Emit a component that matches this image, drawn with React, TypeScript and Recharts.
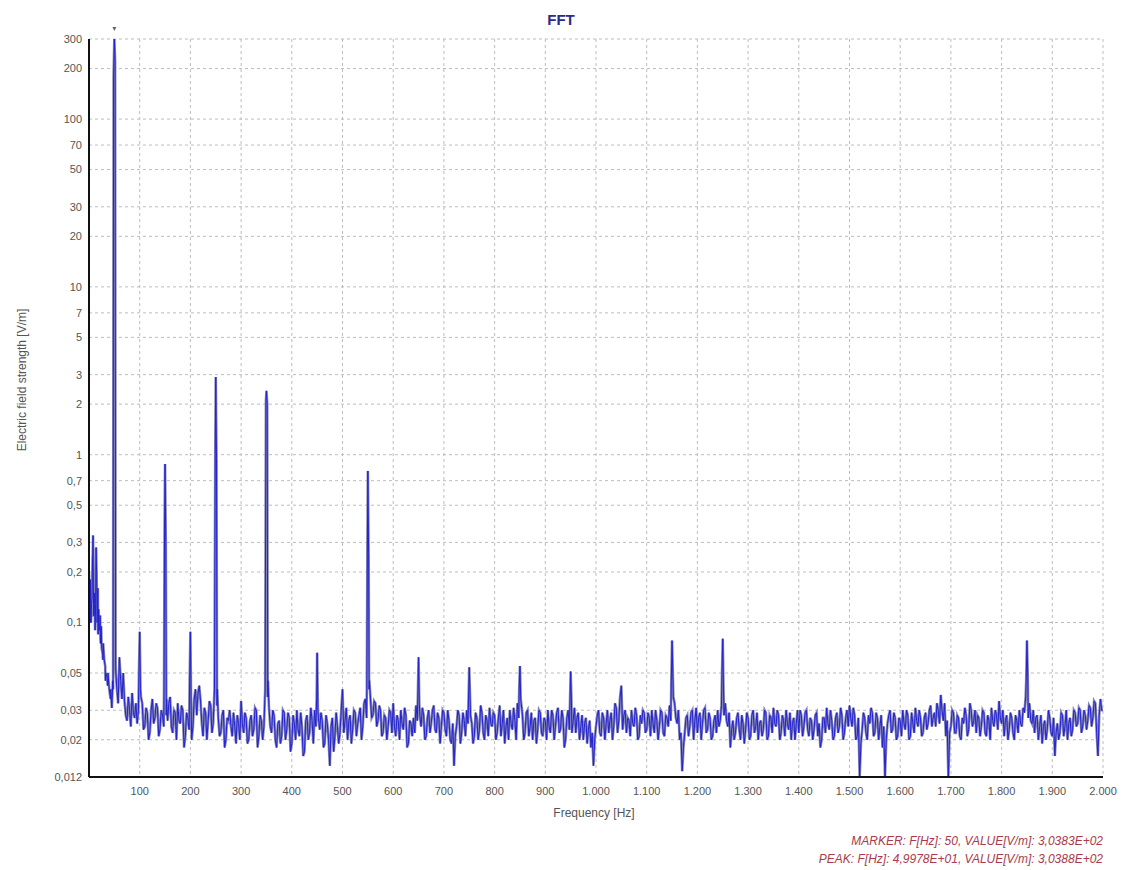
import { LineChart, Line, XAxis, YAxis, CartesianGrid, ReferenceDot } from "recharts";

// FFT noise floor, 5 Hz bins, one block per 500 Hz (10 values = 50 Hz per row)
const floor0 = [
  0.2, 0.13, 0.11, 0.2, 0.09, 0.07, 0.06, 0.048, 0.04, 0.031,
  0.03, 0.04, 0.062, 0.035, 0.034, 0.026, 0.03, 0.038, 0.027, 0.025,
  0.03, 0.033, 0.024, 0.029, 0.022, 0.035, 0.027, 0.031, 0.023, 0.028,
  0.03, 0.026, 0.036, 0.022, 0.029, 0.033, 0.025, 0.03, 0.021, 0.027,
  0.03, 0.024, 0.04, 0.038, 0.034, 0.021, 0.029, 0.026, 0.032, 0.025,
  0.03, 0.027, 0.022, 0.03, 0.02, 0.026, 0.024, 0.029, 0.019, 0.025,
  0.034, 0.022, 0.027, 0.02, 0.028, 0.023, 0.03, 0.021, 0.026, 0.024,
  0.03, 0.031, 0.022, 0.028, 0.018, 0.026, 0.021, 0.029, 0.023, 0.027,
  0.019, 0.025, 0.03, 0.021, 0.024, 0.017, 0.028, 0.022, 0.026, 0.03,
  0.03, 0.023, 0.026, 0.019, 0.025, 0.014, 0.027, 0.021, 0.024, 0.022,
];
const floor500 = [
  0.04, 0.026, 0.02, 0.028, 0.023, 0.029, 0.025, 0.031, 0.024, 0.035,
  0.03, 0.036, 0.028, 0.033, 0.026, 0.03, 0.022, 0.027, 0.024, 0.029,
  0.033, 0.021, 0.026, 0.03, 0.023, 0.028, 0.019, 0.025, 0.027, 0.032,
  0.03, 0.024, 0.028, 0.021, 0.03, 0.025, 0.032, 0.022, 0.027, 0.024,
  0.029, 0.021, 0.026, 0.019, 0.014, 0.024, 0.028, 0.022, 0.026, 0.03,
  0.03, 0.025, 0.021, 0.027, 0.023, 0.029, 0.02, 0.026, 0.031, 0.024,
  0.028, 0.022, 0.032, 0.025, 0.019, 0.027, 0.03, 0.023, 0.026, 0.033,
  0.03, 0.028, 0.022, 0.03, 0.024, 0.02, 0.027, 0.023, 0.029, 0.021,
  0.026, 0.03, 0.022, 0.028, 0.024, 0.031, 0.023, 0.027, 0.02, 0.03,
  0.03, 0.026, 0.022, 0.029, 0.024, 0.02, 0.027, 0.023, 0.018, 0.014,
];
const floor1000 = [
  0.024, 0.03, 0.021, 0.027, 0.025, 0.022, 0.029, 0.024, 0.031, 0.026,
  0.03, 0.028, 0.022, 0.026, 0.03, 0.024, 0.028, 0.021, 0.025, 0.029,
  0.023, 0.027, 0.03, 0.022, 0.026, 0.024, 0.029, 0.021, 0.027, 0.032,
  0.03, 0.033, 0.025, 0.02, 0.013, 0.022, 0.028, 0.024, 0.03, 0.026,
  0.022, 0.029, 0.025, 0.031, 0.023, 0.027, 0.021, 0.028, 0.03, 0.026,
  0.03, 0.033, 0.024, 0.018, 0.026, 0.022, 0.029, 0.02, 0.025, 0.023,
  0.027, 0.021, 0.03, 0.024, 0.02, 0.026, 0.023, 0.029, 0.021, 0.027,
  0.031, 0.024, 0.028, 0.022, 0.026, 0.03, 0.023, 0.02, 0.027, 0.025,
  0.022, 0.028, 0.024, 0.03, 0.021, 0.026, 0.023, 0.029, 0.025, 0.02,
  0.027, 0.031, 0.023, 0.026, 0.021, 0.029, 0.024, 0.028, 0.022, 0.03,
];
const floor1500 = [
  0.032, 0.024, 0.028, 0.021, 0.012, 0.023, 0.027, 0.02, 0.025, 0.029,
  0.022, 0.027, 0.024, 0.018, 0.012, 0.025, 0.03, 0.023, 0.027, 0.021,
  0.026, 0.03, 0.023, 0.028, 0.021, 0.025, 0.031, 0.024, 0.027, 0.022,
  0.029, 0.025, 0.032, 0.027, 0.024, 0.03, 0.037, 0.026, 0.021, 0.012,
  0.024, 0.029, 0.022, 0.027, 0.02, 0.025, 0.028, 0.023, 0.03, 0.026,
  0.022, 0.027, 0.024, 0.029, 0.021, 0.026, 0.031, 0.024, 0.028, 0.034,
  0.025, 0.021, 0.028, 0.023, 0.027, 0.02, 0.026, 0.03, 0.024, 0.029,
  0.03, 0.033, 0.025, 0.022, 0.028, 0.024, 0.019, 0.026, 0.023, 0.027,
  0.021, 0.016, 0.025, 0.022, 0.028, 0.024, 0.02, 0.027, 0.023, 0.029,
  0.025, 0.03, 0.024, 0.028, 0.026, 0.031, 0.027, 0.033, 0.016, 0.035,
  0.03,
];

// in-between bins (offset 2.5 Hz), same block layout
const mid0 = [
  0.1, 0.26, 0.1, 0.16, 0.08, 0.06, 0.045, 0.05, 0.035, 0.04,
  0.055, 0.033, 0.045, 0.05, 0.028, 0.036, 0.024, 0.029, 0.033, 0.03,
  0.036, 0.023, 0.031, 0.02, 0.03, 0.025, 0.033, 0.021, 0.03, 0.024,
  0.028, 0.033, 0.024, 0.03, 0.02, 0.026, 0.032, 0.018, 0.029, 0.023,
  0.02, 0.035, 0.028, 0.042, 0.025, 0.031, 0.02, 0.034, 0.022, 0.03,
  0.032, 0.021, 0.028, 0.018, 0.027, 0.03, 0.021, 0.024, 0.028, 0.02,
  0.025, 0.029, 0.019, 0.026, 0.021, 0.031, 0.018, 0.028, 0.02, 0.03,
  0.036, 0.024, 0.03, 0.02, 0.025, 0.019, 0.03, 0.02, 0.029, 0.017,
  0.028, 0.02, 0.023, 0.029, 0.016, 0.026, 0.02, 0.031, 0.019, 0.024,
  0.027, 0.029, 0.018, 0.028, 0.02, 0.024, 0.017, 0.029, 0.019, 0.03,
];
const mid500 = [
  0.022, 0.031, 0.026, 0.019, 0.03, 0.021, 0.028, 0.02, 0.033, 0.027,
  0.04, 0.027, 0.034, 0.024, 0.032, 0.021, 0.028, 0.02, 0.03, 0.022,
  0.024, 0.028, 0.02, 0.025, 0.031, 0.018, 0.026, 0.021, 0.022, 0.026,
  0.028, 0.031, 0.02, 0.027, 0.022, 0.03, 0.023, 0.029, 0.019, 0.03,
  0.023, 0.03, 0.02, 0.025, 0.021, 0.03, 0.019, 0.029, 0.021, 0.025,
  0.028, 0.019, 0.029, 0.02, 0.032, 0.022, 0.028, 0.021, 0.025, 0.029,
  0.02, 0.027, 0.021, 0.03, 0.024, 0.02, 0.025, 0.031, 0.02, 0.027,
  0.033, 0.02, 0.029, 0.021, 0.029, 0.026, 0.019, 0.03, 0.022, 0.027,
  0.02, 0.024, 0.03, 0.02, 0.029, 0.022, 0.03, 0.018, 0.027, 0.023,
  0.022, 0.031, 0.027, 0.02, 0.028, 0.025, 0.019, 0.026, 0.022, 0.02,
];
const mid1000 = [
  0.028, 0.022, 0.029, 0.02, 0.03, 0.026, 0.02, 0.033, 0.022, 0.036,
  0.023, 0.03, 0.027, 0.021, 0.025, 0.031, 0.02, 0.028, 0.03, 0.022,
  0.029, 0.021, 0.025, 0.03, 0.02, 0.03, 0.022, 0.028, 0.024, 0.026,
  0.036, 0.027, 0.03, 0.022, 0.018, 0.027, 0.021, 0.029, 0.02, 0.031,
  0.027, 0.02, 0.03, 0.022, 0.029, 0.02, 0.026, 0.022, 0.024, 0.032,
  0.028, 0.026, 0.029, 0.023, 0.02, 0.027, 0.023, 0.028, 0.019, 0.029,
  0.02, 0.028, 0.022, 0.029, 0.025, 0.021, 0.03, 0.02, 0.028, 0.022,
  0.025, 0.03, 0.02, 0.028, 0.021, 0.025, 0.029, 0.025, 0.02, 0.03,
  0.03, 0.021, 0.029, 0.023, 0.027, 0.02, 0.028, 0.021, 0.018, 0.027,
  0.022, 0.025, 0.03, 0.02, 0.027, 0.022, 0.031, 0.02, 0.027, 0.024,
];
const mid1500 = [
  0.027, 0.031, 0.02, 0.027, 0.019, 0.029, 0.022, 0.028, 0.031, 0.021,
  0.029, 0.02, 0.028, 0.024, 0.02, 0.028, 0.022, 0.029, 0.02, 0.027,
  0.021, 0.025, 0.03, 0.02, 0.029, 0.022, 0.026, 0.03, 0.021, 0.027,
  0.023, 0.03, 0.024, 0.029, 0.033, 0.025, 0.03, 0.033, 0.026, 0.022,
  0.03, 0.022, 0.028, 0.021, 0.027, 0.031, 0.021, 0.033, 0.024, 0.03,
  0.028, 0.021, 0.03, 0.022, 0.028, 0.02, 0.026, 0.03, 0.023, 0.027,
  0.03, 0.026, 0.02, 0.029, 0.022, 0.028, 0.022, 0.025, 0.031, 0.036,
  0.027, 0.026, 0.03, 0.027, 0.02, 0.028, 0.024, 0.02, 0.03, 0.022,
  0.027, 0.022, 0.02, 0.029, 0.021, 0.03, 0.025, 0.021, 0.03, 0.024,
  0.031, 0.022, 0.03, 0.023, 0.032, 0.024, 0.034, 0.022, 0.028, 0.03,
];

const BIN_HZ = 5;
const MID_OFFSET_HZ = 2.5;
const floorBlocks: [number, number[]][] = [
  [0, floor0],
  [500, floor500],
  [1000, floor1000],
  [1500, floor1500],
];
const midBlocks: [number, number[]][] = [
  [0, mid0],
  [500, mid500],
  [1000, mid1000],
  [1500, mid1500],
];

// extra detail below 45 Hz
const lowHz = [1, 2, 3, 4, 6, 7, 8, 9, 11, 12, 13, 14, 16, 17, 18, 19, 21, 22, 23, 24, 27, 28, 32, 33, 37, 38, 42, 43];
const lowVals = [0.16, 0.12, 0.18, 0.1, 0.14, 0.24, 0.33, 0.11, 0.15, 0.09, 0.13, 0.28, 0.1, 0.14, 0.085, 0.12, 0.09, 0.11, 0.075, 0.095, 0.065, 0.075, 0.055, 0.05, 0.042, 0.047, 0.036, 0.04];

// harmonic peaks (with their neighbouring bins)
const peakHz = [
  47, 48.5, 50, 51.5, 53,
  98.5, 100, 101.5,
  148, 149, 150, 151.5, 153,
  198.5, 200, 201.5,
  247.5, 249, 250, 251.5, 253,
  347.5, 349, 350, 351.5, 353,
  449, 450, 451.5,
  548, 549, 550, 551.5, 553,
  648.5, 650, 651.5,
  750, 848.5, 850, 851.5, 950, 951.5, 1050,
  1148.5, 1150, 1151.5,
  1248.5, 1250, 1251.5,
  1848.5, 1850, 1851.5,
];
const peakVals = [
  0.045, 180, 303.88, 220, 0.05,
  0.05, 0.088, 0.04,
  0.04, 0.35, 0.88, 0.3, 0.035,
  0.045, 0.088, 0.03,
  0.04, 1.0, 2.9, 0.95, 0.04,
  0.04, 2.1, 2.4, 2.0, 0.045,
  0.035, 0.066, 0.03,
  0.04, 0.25, 0.8, 0.26, 0.045,
  0.035, 0.062, 0.033,
  0.054, 0.04, 0.055, 0.035, 0.051, 0.035, 0.042,
  0.045, 0.078, 0.05,
  0.05, 0.08, 0.04,
  0.045, 0.078, 0.05,
];

const xTicks = [100, 200, 300, 400, 500, 600, 700, 800, 900, 1000, 1100, 1200, 1300, 1400, 1500, 1600, 1700, 1800, 1900, 2000];
const yTicks = [0.012, 0.02, 0.03, 0.05, 0.1, 0.2, 0.3, 0.5, 0.7, 1, 2, 3, 5, 7, 10, 20, 30, 50, 70, 100, 200, 300];

const spectrum = (() => {
  const m = new Map<number, number>();
  floorBlocks.forEach(([start, vals]) => vals.forEach((v, i) => m.set(start + i * BIN_HZ, v)));
  midBlocks.forEach(([start, vals]) => vals.forEach((v, i) => m.set(start + i * BIN_HZ + MID_OFFSET_HZ, v)));
  lowHz.forEach((f, i) => m.set(f, lowVals[i]));
  peakHz.forEach((f, i) => m.set(f, peakVals[i]));
  return [...m.entries()].sort((a, b) => a[0] - b[0]).map(([f, v]) => ({ f, v }));
})();

const FONT = "'Liberation Sans', Arial, sans-serif";
const fmtX = (v: number) => (v >= 1000 ? `${Math.floor(v / 1000)}.${String(v % 1000).padStart(3, "0")}` : String(v));
const fmtY = (v: number) => String(v).replace(".", ",");

const Marker = (p: any) => (
  <path d={`M${p.cx - 2},${p.cy - 12} L${p.cx + 2},${p.cy - 12} L${p.cx},${p.cy - 8} Z`} fill="#666" />
);

export default function App() {
  return (
    <div style={{ position: "absolute", left: 0, top: 0, width: 1122, height: 870, background: "#fff", fontFamily: FONT }}>
      <div style={{ position: "absolute", top: 11, width: 1122, textAlign: "center", fontWeight: "bold", fontSize: 15, color: "#2b2b8c" }}>
        FFT
      </div>
      <div
        style={{
          position: "absolute",
          left: 22,
          top: 380,
          transform: "translate(-50%, -50%) rotate(-90deg)",
          whiteSpace: "nowrap",
          fontSize: 12,
          color: "#555",
        }}
      >
        Electric field strength [V/m]
      </div>
      <div style={{ position: "absolute", left: 594, top: 806, transform: "translateX(-50%)", fontSize: 12, color: "#555" }}>
        Frequency [Hz]
      </div>
      <div style={{ position: "absolute", right: 19, top: 832, textAlign: "right", fontSize: 12, fontStyle: "italic", color: "#a83a4c", lineHeight: "18px" }}>
        <div>MARKER: F[Hz]: 50, VALUE[V/m]: 3,0383E+02</div>
        <div>PEAK: F[Hz]: 4,9978E+01, VALUE[V/m]: 3,0388E+02</div>
      </div>
      <LineChart width={1122} height={870} data={spectrum} margin={{ top: 39, right: 19, bottom: 63, left: 0 }} style={{ position: "absolute", left: 0, top: 0 }}>
        <CartesianGrid strokeDasharray="3 3" stroke="#bdbdbd" />
        <XAxis
          dataKey="f"
          type="number"
          domain={[0, 2000]}
          ticks={xTicks}
          tickFormatter={fmtX}
          height={30}
          tickLine={false}
          tickSize={6}
          tickMargin={4}
          axisLine={{ stroke: "#111", strokeWidth: 2 }}
          tick={{ fontSize: 11, fill: "#555", fontFamily: FONT }}
          allowDataOverflow
        />
        <YAxis
          type="number"
          scale="log"
          domain={[0.012, 300]}
          ticks={yTicks}
          tickFormatter={fmtY}
          width={89}
          tickLine={false}
          tickSize={5}
          tickMargin={2}
          interval={0}
          axisLine={{ stroke: "#111", strokeWidth: 2 }}
          tick={{ fontSize: 11, fill: "#555", fontFamily: FONT }}
          allowDataOverflow
        />
        <Line type="linear" dataKey="v" stroke="#8686b6" strokeWidth={2.6} dot={false} isAnimationActive={false} />
        <Line type="linear" dataKey="v" stroke="#2222d4" strokeWidth={1} dot={false} isAnimationActive={false} />
        <ReferenceDot x={50} y={300} r={2} shape={Marker} ifOverflow="visible" />
      </LineChart>
    </div>
  );
}
